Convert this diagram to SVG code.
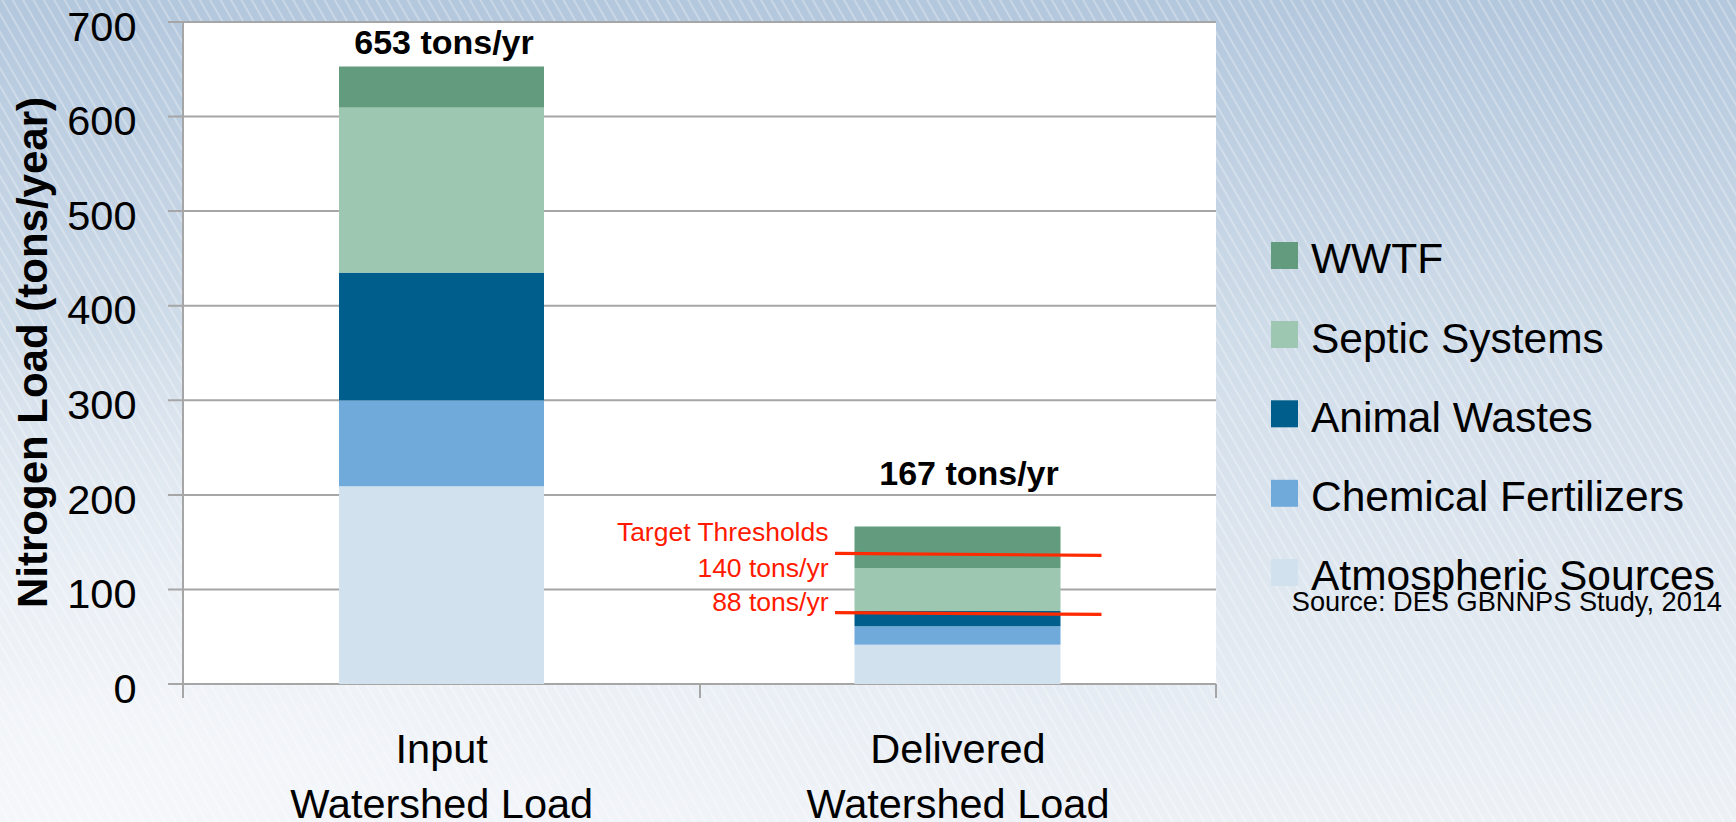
<svg xmlns="http://www.w3.org/2000/svg" width="1736" height="822" viewBox="0 0 1736 822">
  <defs>
    <linearGradient id="bgGrad" x1="0" y1="0" x2="0" y2="1">
      <stop offset="0" stop-color="#b3c7dd"/>
      <stop offset="0.45" stop-color="#d2deea"/>
      <stop offset="1" stop-color="#edf1f6"/>
    </linearGradient>
    <radialGradient id="glow" cx="0.05" cy="1" r="0.6">
      <stop offset="0" stop-color="#f6f8fb" stop-opacity="0.9"/>
      <stop offset="1" stop-color="#f6f8fb" stop-opacity="0"/>
    </radialGradient>
    <pattern id="stripes" width="9" height="9" patternUnits="userSpaceOnUse" patternTransform="rotate(-30)">
      <line x1="2" y1="0" x2="2" y2="9" stroke="#ffffff" stroke-width="2" stroke-opacity="0.28"/>
    </pattern>
  </defs>
  <style>
    .grid { stroke: #a6a6a6; stroke-width: 2; fill: none; }
    .tick { font-family: "Liberation Sans", Arial, sans-serif; font-size: 41.5px; fill: #000; text-anchor: end; }
    .cat { font-family: "Liberation Sans", Arial, sans-serif; font-size: 41.5px; fill: #000; text-anchor: middle; }
    .leg { font-family: "Liberation Sans", Arial, sans-serif; font-size: 42.5px; fill: #000; }
    .total { font-family: "Liberation Sans", Arial, sans-serif; font-size: 34px; font-weight: bold; fill: #000; text-anchor: middle; }
    .red { font-family: "Liberation Sans", Arial, sans-serif; font-size: 26.5px; fill: #ff1a00; text-anchor: end; }
    .thr { stroke: #ff2a00; stroke-width: 3.2; fill: none; }
    .wwtf { fill: #629b7e; }
    .septic { fill: #9dc7b0; }
    .animal { fill: #005e8c; }
    .chem { fill: #6faadb; }
    .atm { fill: #d1e1ee; }
  </style>

  <!-- background -->
  <rect x="0" y="0" width="1736" height="822" fill="url(#bgGrad)"/>
  <rect x="0" y="0" width="1736" height="822" fill="url(#glow)"/>
  <rect x="0" y="0" width="1736" height="822" fill="url(#stripes)"/>

  <!-- plot area -->
  <g id="plot-area">
    <rect x="183" y="22" width="1033" height="662" fill="#ffffff"/>
    <g class="grid">
      <line x1="168" y1="22" x2="1216" y2="22"/>
      <line x1="168" y1="116.6" x2="1216" y2="116.6"/>
      <line x1="168" y1="211.1" x2="1216" y2="211.1"/>
      <line x1="168" y1="305.7" x2="1216" y2="305.7"/>
      <line x1="168" y1="400.3" x2="1216" y2="400.3"/>
      <line x1="168" y1="494.9" x2="1216" y2="494.9"/>
      <line x1="168" y1="589.4" x2="1216" y2="589.4"/>
      <line x1="168" y1="684" x2="1216" y2="684"/>
      <line x1="183" y1="22" x2="183" y2="698"/>
      <line x1="700" y1="684" x2="700" y2="698"/>
      <line x1="1216" y1="684" x2="1216" y2="698"/>
    </g>
  </g>

  <!-- y axis -->
  <g id="y-axis">
    <text class="tick" x="136.5" y="40.7">700</text>
    <text class="tick" x="136.5" y="135.3">600</text>
    <text class="tick" x="136.5" y="229.8">500</text>
    <text class="tick" x="136.5" y="324.4">400</text>
    <text class="tick" x="136.5" y="419">300</text>
    <text class="tick" x="136.5" y="513.6">200</text>
    <text class="tick" x="136.5" y="608.1">100</text>
    <text class="tick" x="136.5" y="702.7">0</text>
    <text x="0" y="0" transform="translate(46.5,352.5) rotate(-90)" text-anchor="middle" font-family="'Liberation Sans', Arial, sans-serif" font-size="42" font-weight="bold" fill="#000">Nitrogen Load (tons/year)</text>
  </g>

  <!-- bar: input -->
  <g id="bar-input">
    <rect class="atm" x="339" y="486.3" width="205" height="197.7"/>
    <rect class="chem" x="339" y="400.3" width="205" height="86"/>
    <rect class="animal" x="339" y="272.6" width="205" height="127.7"/>
    <rect class="septic" x="339" y="107.6" width="205" height="165"/>
    <rect class="wwtf" x="339" y="66.5" width="205" height="41.1"/>
    <text class="total" x="444" y="54">653 tons/yr</text>
    <text class="cat" x="441.7" y="762.7">Input</text>
    <text class="cat" x="441.7" y="818">Watershed Load</text>
  </g>

  <!-- bar: delivered -->
  <g id="bar-delivered">
    <rect class="atm" x="854.5" y="644.7" width="206" height="39.3"/>
    <rect class="chem" x="854.5" y="626.3" width="206" height="18.4"/>
    <rect class="animal" x="854.5" y="611" width="206" height="15.3"/>
    <rect class="septic" x="854.5" y="568" width="206" height="43"/>
    <rect class="wwtf" x="854.5" y="526.5" width="206" height="41.5"/>
    <text class="total" x="969" y="485">167 tons/yr</text>
    <text class="cat" x="958" y="762.7">Delivered</text>
    <text class="cat" x="958" y="818">Watershed Load</text>
  </g>

  <!-- threshold lines -->
  <g id="connectors">
    <line class="thr" x1="835" y1="553.4" x2="1101.5" y2="555.4"/>
    <line class="thr" x1="835" y1="612.6" x2="1101.5" y2="614.4"/>
  </g>
  <g id="thresholds-label">
    <text class="red" x="828.5" y="540.7">Target Thresholds</text>
    <text class="red" x="828.5" y="576.7">140 tons/yr</text>
    <text class="red" x="828.5" y="610.7">88 tons/yr</text>
  </g>

  <!-- legend -->
  <g id="legend-wwtf">
    <rect class="wwtf" x="1271" y="242" width="27" height="27"/>
    <text class="leg" x="1311" y="273.3">WWTF</text>
  </g>
  <g id="legend-septic">
    <rect class="septic" x="1271" y="321" width="27" height="27"/>
    <text class="leg" x="1311" y="352.6">Septic Systems</text>
  </g>
  <g id="legend-animal">
    <rect class="animal" x="1271" y="400.3" width="27" height="27"/>
    <text class="leg" x="1311" y="431.9">Animal Wastes</text>
  </g>
  <g id="legend-chem">
    <rect class="chem" x="1271" y="479.8" width="27" height="27"/>
    <text class="leg" x="1311" y="511">Chemical Fertilizers</text>
  </g>
  <g id="legend-atm">
    <rect class="atm" x="1271" y="559" width="27" height="27"/>
    <text class="leg" x="1311" y="590.3">Atmospheric Sources</text>
  </g>

  <g id="source">
    <text x="1722" y="611" text-anchor="end" font-family="'Liberation Sans', Arial, sans-serif" font-size="27.2" fill="#000">Source: DES GBNNPS Study, 2014</text>
  </g>
</svg>
